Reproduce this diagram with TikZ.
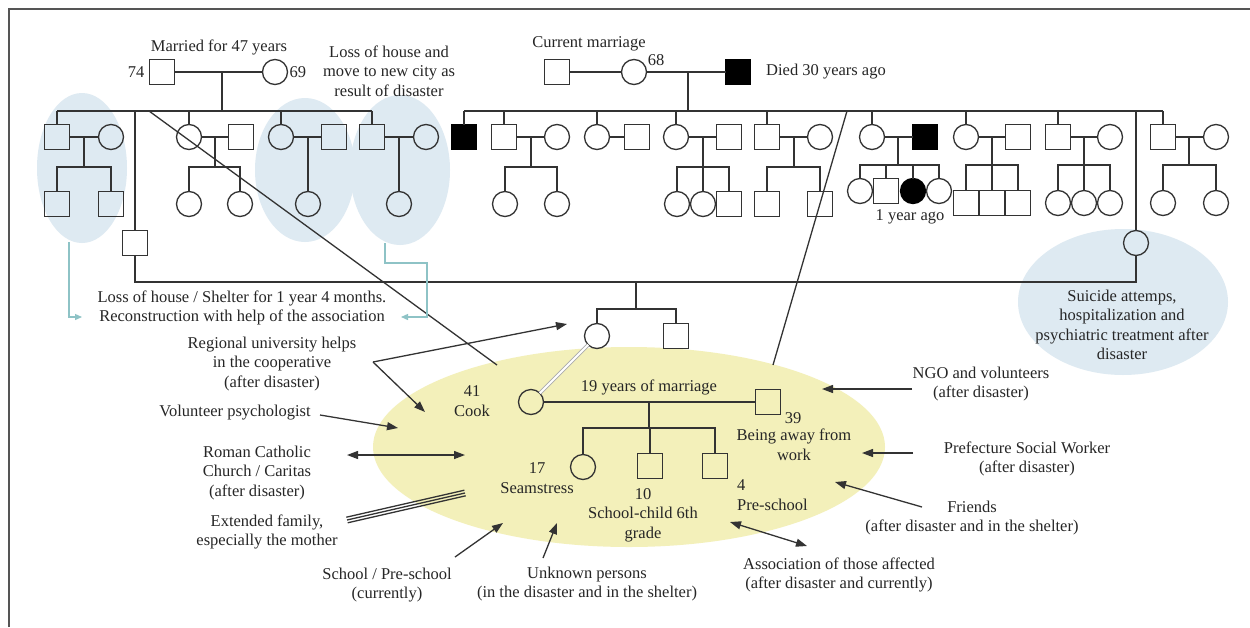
\documentclass[tikz,border=0pt]{standalone}
\usepackage{fontspec}
\setmainfont{Liberation Serif}
\usetikzlibrary{arrows.meta,calc}
\definecolor{lc}{HTML}{333333}
\definecolor{tc}{HTML}{262626}
\definecolor{yel}{HTML}{F3F0BA}
\definecolor{blu}{HTML}{DEEAF2}
\definecolor{tealc}{HTML}{8EC3C6}
\definecolor{framec}{HTML}{555555}
\newcommand\fs{\fontsize{16.5}{19.5}\selectfont}
\begin{document}
\begin{tikzpicture}[x=1pt,y=-1pt,
  sq/.style={draw=lc,line width=1.3pt,minimum size=25pt,inner sep=0pt,outer sep=0pt},
  ci/.style={circle,draw=lc,line width=1.3pt,minimum size=25pt,inner sep=0pt,outer sep=0pt},
  dsq/.style={sq,fill=black,draw=black},
  dci/.style={ci,fill=black,draw=black},
  lbl/.style={font=\fs,text=tc,align=center,inner sep=1pt},
  gl/.style={draw=lc,line width=1.3pt},
  arr/.style={draw=lc,line width=1.3pt,-{Triangle[length=11pt,width=8pt]}},
  darr/.style={draw=lc,line width=1.3pt,{Triangle[length=11pt,width=8pt]}-{Triangle[length=11pt,width=8pt]}},
  tarr/.style={draw=tealc,line width=1.3pt,-{Triangle[length=7pt,width=6pt]}},
]
\fill[white] (0,0) rectangle (1250,627);
\useasboundingbox (0,0) rectangle (1250,627);
\draw[framec,line width=1.5pt] (9,627) -- (9,9) -- (1250,9);

% background ellipses
\fill[blu] (82,168) ellipse [x radius=45pt, y radius=75pt];
\fill[blu] (305,170) ellipse [x radius=50pt, y radius=72pt];
\fill[blu] (400,170) ellipse [x radius=50pt, y radius=75pt];
\fill[blu] (1123,302) ellipse [x radius=105pt, y radius=73pt];
\fill[yel] (629,447) ellipse [x radius=256pt, y radius=100pt];

% helper rows
\coordinate (s1) at (0,111);
\coordinate (k1) at (0,167);
\coordinate (k2) at (0,165);
\coordinate (hh) at (0,282);
\coordinate (s3) at (0,309);
\coordinate (k3) at (0,428);

% ===== left family of origin =====
\node[sq] (g1m) at (162,72) {};
\node[ci] (g1f) at (275,72) {};
\node[lbl,anchor=east] (t74) at ([xshift=-4pt]g1m.west) {74};
\node[lbl,anchor=west] (t69) at ([xshift=1pt]g1f.east) {69};
\node[lbl] (tmar) at (219,47) {Married for 47 years};
\node[lbl] (tloss1) at (389,71) {Loss of house and\\move to new city as\\result of disaster};
\draw[gl] (g1m) -- (g1f);
\coordinate (g1d) at (222,72);
\draw[gl] (g1d) -- (g1d |- s1);

\node[sq] (a1) at (57,137) {};
\node[ci] (a1w) at (111,137) {};
\node[sq] (a2) at (135,243) {};
\node[ci] (a3) at (189,137) {};
\node[sq] (a3w) at (241,137) {};
\node[ci] (a4) at (281,137) {};
\node[sq] (a4w) at (334,137) {};
\node[sq] (a5) at (372,137) {};
\node[ci] (a5w) at (426,137) {};
\draw[gl] (a1 |- s1) -- (a5 |- s1);
\foreach \n in {a1,a3,a4,a5} \draw[gl] (\n) -- (\n |- s1);
\draw[gl] (a2) -- (a2 |- s1);
\draw[gl] (a1) -- (a1w);
\draw[gl] (a3) -- (a3w);
\draw[gl] (a4) -- (a4w);
\draw[gl] (a5) -- (a5w);
% children
\node[sq] (a1k1) at (57,204) {};
\node[sq] (a1k2) at (111,204) {};
\coordinate (a1d) at (84,137);
\draw[gl] (a1d) -- (a1d |- k1);
\draw[gl] (a1k1) -- (a1k1 |- k1) -- (a1k2 |- k1) -- (a1k2);
\node[ci] (a3k1) at (189,204) {};
\node[ci] (a3k2) at (240,204) {};
\coordinate (a3d) at (215,137);
\draw[gl] (a3d) -- (a3d |- k1);
\draw[gl] (a3k1) -- (a3k1 |- k1) -- (a3k2 |- k1) -- (a3k2);
\node[ci] (a4k1) at (308,204) {};
\draw[gl] (a4k1) -- (a4k1 |- a4);
\node[ci] (a5k1) at (399,204) {};
\draw[gl] (a5k1) -- (a5k1 |- a5);

% ===== right family of origin =====
\node[sq] (b0) at (557,72) {};
\node[ci] (b1) at (634,72) {};
\node[dsq] (b2) at (738,72) {};
\node[lbl] (t68) at (656,60) {68};
\node[lbl] (tcur) at (589,44) {Current marriage};
\node[lbl,anchor=west] (tdied) at (765,72) {Died 30 years ago};
\draw[gl] (b0) -- (b1);
\draw[gl] (b1) -- (b2);
\coordinate (b1d) at (688,72);
\draw[gl] (b1d) -- (b1d |- s1);

\node[dsq] (c1) at (464,137) {};
\node[sq] (c2) at (504,137) {};
\node[ci] (c2w) at (557,137) {};
\node[ci] (c3) at (597,137) {};
\node[sq] (c3w) at (637,137) {};
\node[ci] (c4) at (676,137) {};
\node[sq] (c4w) at (729,137) {};
\node[sq] (c5) at (767,137) {};
\node[ci] (c5w) at (820,137) {};
\node[ci] (c6) at (872,137) {};
\node[dsq] (c6w) at (925,137) {};
\node[ci] (c7) at (966,137) {};
\node[sq] (c7w) at (1018,137) {};
\node[sq] (c8) at (1058,137) {};
\node[ci] (c8w) at (1110,137) {};
\node[ci] (c9) at (1136,243) {};
\node[sq] (c10) at (1163,137) {};
\node[ci] (c10w) at (1216,137) {};
\draw[gl] (c1 |- s1) -- (c10 |- s1);
\foreach \n in {c1,c2,c3,c4,c5,c6,c7,c8,c10} \draw[gl] (\n) -- (\n |- s1);
\draw[gl] (c9) -- (c9 |- s1);
\foreach \n in {c2,c3,c4,c5,c6,c7,c8,c10} \draw[gl] (\n) -- (\n w);

% children c2
\node[ci] (c2k1) at (505,204) {};
\node[ci] (c2k2) at (557,204) {};
\coordinate (c2d) at (531,137);
\draw[gl] (c2d) -- (c2d |- k1);
\draw[gl] (c2k1) -- (c2k1 |- k1) -- (c2k2 |- k1) -- (c2k2);
% children c4
\node[ci] (c4k1) at (677,204) {};
\node[ci] (c4k2) at (703,204) {};
\node[sq] (c4k3) at (729,204) {};
\coordinate (c4d) at (703,137);
\draw[gl] (c4d) -- (c4k2);
\draw[gl] (c4k1) -- (c4k1 |- k1) -- (c4k3 |- k1) -- (c4k3);
% children c5
\node[sq] (c5k1) at (767,204) {};
\node[sq] (c5k2) at (820,204) {};
\coordinate (c5d) at (794,137);
\draw[gl] (c5d) -- (c5d |- k1);
\draw[gl] (c5k1) -- (c5k1 |- k1) -- (c5k2 |- k1) -- (c5k2);
% children c6
\node[ci] (c6k1) at (860,191) {};
\node[sq] (c6k2) at (886,191) {};
\node[dci] (c6k3) at (913,191) {};
\node[ci] (c6k4) at (939,191) {};
\coordinate (c6d) at (898,137);
\draw[gl] (c6d) -- (c6d |- k2);
\draw[gl] (c6k1) -- (c6k1 |- k2) -- (c6k4 |- k2) -- (c6k4);
\draw[gl] (c6k2) -- (c6k2 |- k2);
\draw[gl] (c6k3) -- (c6k3 |- k2);
\node[lbl] (t1y) at (910,217) {1 year ago};
% children c7
\node[sq] (c7k1) at (966,203) {};
\node[sq] (c7k2) at (992,203) {};
\node[sq] (c7k3) at (1018,203) {};
\coordinate (c7d) at (992,137);
\draw[gl] (c7d) -- (c7k2);
\draw[gl] (c7k1) -- (c7k1 |- k2) -- (c7k3 |- k2) -- (c7k3);
% children c8
\node[ci] (c8k1) at (1058,203) {};
\node[ci] (c8k2) at (1084,203) {};
\node[ci] (c8k3) at (1110,203) {};
\coordinate (c8d) at (1084,137);
\draw[gl] (c8d) -- (c8k2);
\draw[gl] (c8k1) -- (c8k1 |- k2) -- (c8k3 |- k2) -- (c8k3);
% children c10
\node[ci] (c10k1) at (1163,203) {};
\node[ci] (c10k2) at (1216,203) {};
\coordinate (c10d) at (1189,137);
\draw[gl] (c10d) -- (c10d |- k2);
\draw[gl] (c10k1) -- (c10k1 |- k2) -- (c10k2 |- k2) -- (c10k2);

% ===== the couple's line =====
\draw[gl] (a2) -- (a2 |- hh) -- (c9 |- hh) -- (c9);
\node[ci] (d1) at (597,336) {};
\node[sq] (d2) at (676,336) {};
\coordinate (dd) at (636,282);
\draw[gl] (dd) -- (dd |- s3);
\draw[gl] (d1) -- (d1 |- s3) -- (d2 |- s3) -- (d2);

% diagonal lines from sibling lines
\coordinate (diagL) at (149,111);
\coordinate (diagLe) at (497,365);
\coordinate (diagR) at (847,111);
\coordinate (diagRe) at (773,365);
\draw[gl] (diagL) -- (diagLe);
\draw[gl] (diagR) -- (diagRe);

% ===== current family =====
\node[ci] (mo) at (531,402) {};
\node[sq] (fa) at (768,402) {};
\draw[draw=gray!65,double=white,double distance=2pt,line width=0.9pt] (d1) -- (mo);
\draw[gl] (mo) -- (fa);
\node[ci] (k1n) at (583,467) {};
\node[sq] (k2n) at (650,466) {};
\node[sq] (k3n) at (715,466) {};
\coordinate (md) at (649,402);
\draw[gl] (md) -- (md |- k3);
\draw[gl] (k1n) -- (k1n |- k3) -- (k3n |- k3) -- (k3n);
\draw[gl] (k2n) -- (k2n |- k3);
\node[lbl] (tmo) at (472,401) {41\\Cook};
\node[lbl] (t19) at (649,387) {19 years of marriage};
\node[lbl] (t39) at (793,418) {39};
\node[lbl] (tfa) at (794,445) {Being away from\\work};
\node[lbl] (tk1) at (537,478) {17\\Seamstress};
\node[lbl] (tk2) at (643,515) {10\\School-child 6th\\grade};
\node[lbl,align=left,anchor=west] (tk3) at (736,495) {4\\Pre-school};

% ===== outside labels =====
\node[lbl] (tshel) at (242,308) {Loss of house / Shelter for 1 year 4 months.\\Reconstruction with help of the association};
\node[lbl] (tuni) at (272,364) {Regional university helps\\in the cooperative\\(after disaster)};
\node[lbl] (tvol) at (235,413) {Volunteer psychologist};
\node[lbl] (tch) at (257,473) {Roman Catholic\\Church / Caritas\\(after disaster)};
\node[lbl] (text) at (267,532) {Extended family,\\especially the mother};
\node[lbl] (tsch) at (387,585) {School / Pre-school\\(currently)};
\node[lbl] (tunk) at (587,584) {Unknown persons\\(in the disaster and in the shelter)};
\node[lbl] (tass) at (839,575) {Association of those affected\\(after disaster and currently)};
\node[lbl] (tfri) at (972,518) {Friends\\(after disaster and in the shelter)};
\node[lbl] (tpre) at (1027,459) {Prefecture Social Worker\\(after disaster)};
\node[lbl] (tngo) at (981,384) {NGO and volunteers\\(after disaster)};
\node[lbl] (tsui) at (1122,325) {Suicide attemps,\\hospitalization and\\psychiatric treatment after\\disaster};

% teal connectors
\coordinate (tlA) at (69,242);
\coordinate (tlB) at (82,317);
\draw[tarr] (tlA) -- (tlA |- tlB) -- (tlB);
\coordinate (trA) at (385,243);
\coordinate (trB) at (427,263);
\coordinate (trC) at (401,317);
\draw[tarr] (trA) -- (trA |- trB) -- (trB) -- (trB |- trC) -- (trC);

% arrows
\coordinate (uniP) at (373,362);
\coordinate (uniT1) at (567,324);
\coordinate (uniT2) at (425,412);
\draw[arr] (uniP) -- (uniT1);
\draw[arr] (uniP) -- (uniT2);
\coordinate (volA) at (320,415);
\coordinate (volB) at (398,428);
\draw[arr] (volA) -- (volB);
\coordinate (chA) at (347,455);
\coordinate (chB) at (465,455);
\draw[darr] (chA) -- (chB);
\coordinate (exA) at (347,520);
\coordinate (exB) at (465,493);
\draw[gl,line width=1.3pt] (exA) -- (exB);
\draw[gl,line width=1.3pt] ([shift={(0.65,2.8)}]exA) -- ([shift={(0.65,2.8)}]exB);
\draw[gl,line width=1.3pt] ([shift={(-0.65,-2.8)}]exA) -- ([shift={(-0.65,-2.8)}]exB);
\coordinate (scA) at (455,557);
\coordinate (scB) at (503,523);
\draw[arr] (scA) -- (scB);
\coordinate (unA) at (543,558);
\coordinate (unB) at (557,523);
\draw[arr] (unA) -- (unB);
\coordinate (asA) at (730,522);
\coordinate (asB) at (807,546);
\draw[darr] (asA) -- (asB);
\coordinate (frA) at (922,507);
\coordinate (frB) at (835,482);
\draw[arr] (frA) -- (frB);
\coordinate (prA) at (913,453);
\coordinate (prB) at (862,453);
\draw[arr] (prA) -- (prB);
\coordinate (ngA) at (912,389);
\coordinate (ngB) at (822,389);
\draw[arr] (ngA) -- (ngB);
\end{tikzpicture}
\end{document}
